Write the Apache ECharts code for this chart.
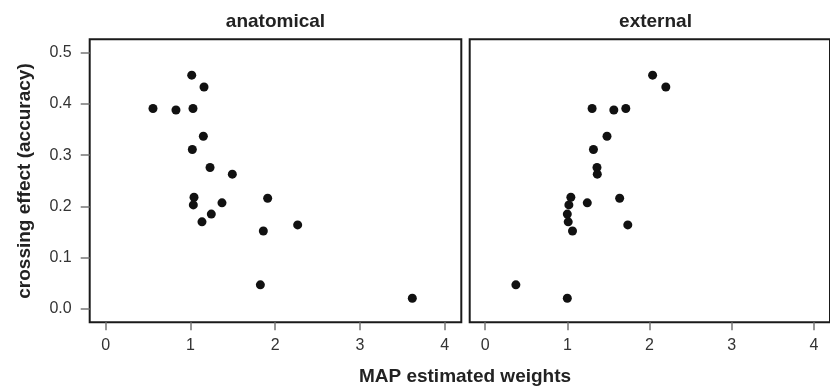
<!DOCTYPE html>
<html>
<head>
<meta charset="utf-8">
<script src="https://cdn.jsdelivr.net/npm/echarts@6/dist/echarts.min.js"></script>
<style>
html,body{margin:0;padding:0;background:#fff;}
#chart{width:830px;height:387px;}
</style>
</head>
<body>
<div id="chart"></div>
<script>
// ---- data ----
const panelTitles = ["anatomical", "external"];
const xTicks = [0, 1, 2, 3, 4];
const yTicks = [0, 0.1, 0.2, 0.3, 0.4, 0.5];
const anatX = [1.015, 1.160, 0.558, 0.829, 1.030, 1.152, 1.022, 1.231, 1.494, 1.042, 1.034, 1.372, 1.911, 1.246, 1.136, 2.265, 1.860, 1.825, 3.618];
const anatY = [0.456, 0.433, 0.391, 0.388, 0.391, 0.337, 0.311, 0.276, 0.263, 0.218, 0.203, 0.207, 0.216, 0.185, 0.170, 0.164, 0.152, 0.047, 0.021];
const extX  = [2.037, 2.198, 1.301, 1.565, 1.711, 1.482, 1.317, 1.360, 1.364, 1.042, 1.018, 1.242, 1.636, 0.999, 1.010, 1.735, 1.062, 0.373, 0.999];
const extY  = [0.456, 0.433, 0.391, 0.388, 0.391, 0.337, 0.311, 0.276, 0.263, 0.218, 0.203, 0.207, 0.216, 0.185, 0.170, 0.164, 0.152, 0.047, 0.021];
const xTitle = "MAP estimated weights";
const yTitle = "crossing effect (accuracy)";

const pair = (xs, ys) => xs.map((x, i) => [x, ys[i]]);

const FONT = "'Liberation Sans', Arial, sans-serif";
const gridTop = 39.3, gridH = 283, gridW = 371.6;
const gridLefts = [89.7, 469.7];

function xAxis(idx) {
  return {
    type: 'value', gridIndex: idx, min: -0.189, max: 4.196,
    axisLine: { show: false, onZero: false }, splitLine: { show: false },
    axisTick: { show: true, length: 8, customValues: xTicks, lineStyle: { color: '#777', width: 1.5 } },
    axisLabel: { customValues: xTicks, fontSize: 16, color: '#333', margin: 15, fontFamily: FONT }
  };
}
function yAxis(idx, show) {
  return {
    type: 'value', gridIndex: idx, min: -0.026, max: 0.526,
    axisLine: { show: false, onZero: false }, splitLine: { show: false },
    axisTick: { show: show, length: 9, customValues: yTicks, lineStyle: { color: '#777', width: 1.5 } },
    axisLabel: { show: show, customValues: yTicks, fontSize: 16, color: '#333', margin: 18, fontFamily: FONT,
                 formatter: v => v.toFixed(1) }
  };
}

const chart = echarts.init(document.getElementById('chart'), null, { renderer: 'canvas' });
chart.setOption({
  backgroundColor: '#fff',
  animation: false,
  grid: gridLefts.map(l => ({
    left: l, top: gridTop, width: gridW, height: gridH,
    show: true, borderColor: '#1a1a1a', borderWidth: 2, backgroundColor: 'transparent'
  })),
  xAxis: [xAxis(0), xAxis(1)],
  yAxis: [yAxis(0, true), yAxis(1, false)],
  series: [
    { type: 'scatter', xAxisIndex: 0, yAxisIndex: 0, data: pair(anatX, anatY),
      symbolSize: 9, itemStyle: { color: '#111', opacity: 1 } },
    { type: 'scatter', xAxisIndex: 1, yAxisIndex: 1, data: pair(extX, extY),
      symbolSize: 9, itemStyle: { color: '#111', opacity: 1 } }
  ],
  graphic: [
    { type: 'text', x: gridLefts[0] + gridW / 2, y: 22,
      style: { text: panelTitles[0], font: "bold 19px " + FONT, fill: '#222', textAlign: 'center', textVerticalAlign: 'middle' } },
    { type: 'text', x: gridLefts[1] + gridW / 2, y: 22,
      style: { text: panelTitles[1], font: "bold 19px " + FONT, fill: '#222', textAlign: 'center', textVerticalAlign: 'middle' } },
    { type: 'text', x: 465, y: 377,
      style: { text: xTitle, font: "bold 19px " + FONT, fill: '#222', textAlign: 'center', textVerticalAlign: 'middle' } },
    { type: 'text', x: 25, y: 181, rotation: Math.PI / 2,
      style: { text: yTitle, font: "bold 19px " + FONT, fill: '#222', textAlign: 'center', textVerticalAlign: 'middle' } }
  ]
});
</script>
</body>
</html>
